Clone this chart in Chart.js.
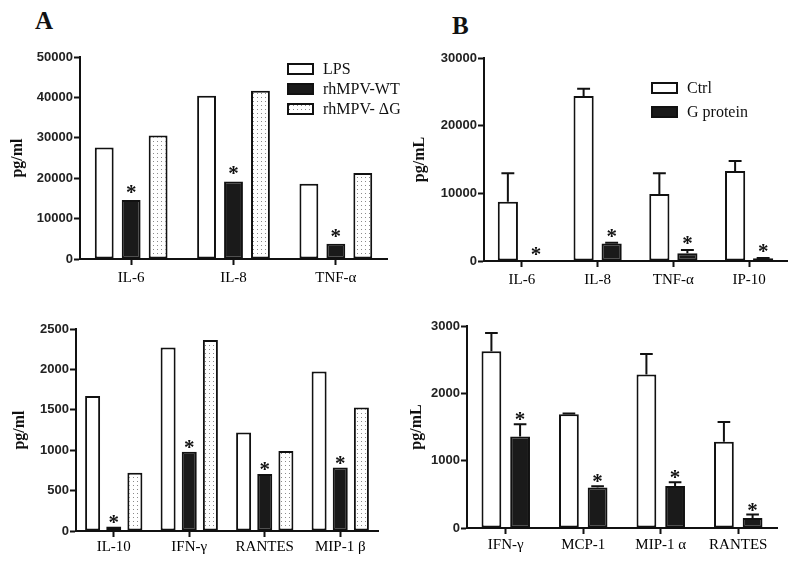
<!DOCTYPE html>
<html>
<head>
<meta charset="utf-8">
<script src="https://cdn.jsdelivr.net/npm/chart.js@4/dist/chart.umd.min.js"></script>
<style>
body { margin:0; background:#fff; }
#wrap { position:relative; width:800px; height:566px; overflow:hidden; }
canvas { position:absolute; }
.tag { position:absolute; font:bold 25px "Liberation Serif", serif; line-height:1; color:#111; }
</style>
</head>
<body>
<div id="wrap">
  <div class="tag" style="left:35px;top:8px">A</div>
  <div class="tag" style="left:452px;top:13px">B</div>
  <canvas id="a1" width="400" height="250" style="left:0;top:40px"></canvas>
  <canvas id="b1" width="400" height="250" style="left:400px;top:40px"></canvas>
  <canvas id="a2" width="400" height="266" style="left:0;top:300px"></canvas>
  <canvas id="b2" width="400" height="266" style="left:400px;top:300px"></canvas>
</div>
<script>
// panel A, top
const catsA1 = ['IL-6', 'IL-8', 'TNF-α'];
const lpsA1 = [27600, 40400, 18600];
const wtA1 = [14600, 19200, 3800];
const dgA1 = [30600, 41650, 21300];

// panel A, bottom
const catsA2 = ['IL-10', 'IFN-γ', 'RANTES', 'MIP-1 β'];
const lpsA2 = [1670, 2270, 1220, 1975];
const wtA2 = [55, 980, 705, 785];
const dgA2 = [720, 2365, 990, 1530];

// panel B, top
const catsB1 = ['IL-6', 'IL-8', 'TNF-α', 'IP-10'];
const ctrlB1 = [8760, 24400, 9900, 13300];
const ctrlErrB1 = [4200, 1050, 3050, 1470];
const gB1 = [0, 2600, 1130, 400];
const gErrB1 = [0, 100, 500, 60];

// panel B, bottom
const catsB2 = ['IFN-γ', 'MCP-1', 'MIP-1 α', 'RANTES'];
const ctrlB2 = [2625, 1690, 2280, 1280];
const ctrlErrB2 = [270, 10, 305, 295];
const gB2 = [1360, 600, 625, 150];
const gErrB2 = [180, 20, 55, 50];

const seriesA = ['LPS', 'rhMPV-WT', 'rhMPV- ΔG'];
const seriesB = ['Ctrl', 'G protein'];

const INK = '#111';
const SERIF = '"Liberation Serif", "Times New Roman", serif';

function dots(ctx) {
    const c = document.createElement('canvas');
    c.width = 4; c.height = 4;
    const g = c.getContext('2d');
    g.fillStyle = '#fff'; g.fillRect(0, 0, 4, 4);
    g.fillStyle = '#8a8a8a'; g.fillRect(1, 1, 1, 1);
    return ctx.createPattern(c, 'repeat');
}

// error bars (upward only) and significance stars
const extras = {
    id: 'extras',
    afterDatasetsDraw(chart, args, opts) {
        const ctx = chart.ctx, y = chart.scales.y;
        chart.data.datasets.forEach((ds, di) => {
            const meta = chart.getDatasetMeta(di);
            meta.data.forEach((bar, i) => {
                let top = ds.data[i];
                if (ds.errors) {
                    top += ds.errors[i];
                    const yt = y.getPixelForValue(top);
                    if (ds.errors[i] > 0) {
                        ctx.save();
                        ctx.strokeStyle = INK; ctx.lineWidth = 2;
                        ctx.beginPath();
                        ctx.moveTo(bar.x, bar.y); ctx.lineTo(bar.x, yt);
                        ctx.moveTo(bar.x - bar.width * 0.32, yt); ctx.lineTo(bar.x + bar.width * 0.32, yt);
                        ctx.stroke();
                        ctx.restore();
                    }
                }
                if (ds.stars) {
                    const yt = y.getPixelForValue(top);
                    ctx.save();
                    ctx.fillStyle = INK;
                    ctx.font = 'bold 21px ' + SERIF;
                    ctx.textAlign = 'center';
                    ctx.textBaseline = 'alphabetic';
                    ctx.fillText('*', bar.x, yt - opts.lift);
                    ctx.restore();
                }
            });
        });
    }
};

// boxed legend inside the plot
const boxLegend = {
    id: 'boxLegend',
    afterDraw(chart, args, opts) {
        if (!opts.show) return;
        const ctx = chart.ctx;
        chart.data.datasets.forEach((ds, i) => {
            const cy = opts.y + i * opts.step;
            ctx.save();
            ctx.fillStyle = ds.backgroundColor;
            ctx.fillRect(opts.x, cy - 5, 25, 10);
            ctx.strokeStyle = INK; ctx.lineWidth = 2;
            ctx.strokeRect(opts.x, cy - 5, 25, 10);
            ctx.fillStyle = INK;
            ctx.font = '16px ' + SERIF;
            ctx.textBaseline = 'middle';
            ctx.fillText(ds.label, opts.x + 35, cy + 1);
            ctx.restore();
        });
    }
};

function panel(id, cats, datasets, g) {
    const ctx = document.getElementById(id).getContext('2d');
    return new Chart(ctx, {
        type: 'bar',
        data: { labels: cats, datasets: datasets },
        plugins: [extras, boxLegend],
        options: {
            responsive: false,
            animation: false,
            layout: { padding: { top: g.top, right: g.right, left: 0, bottom: 0 } },
            categoryPercentage: g.cat,
            barPercentage: g.bar,
            plugins: {
                legend: { display: false },
                tooltip: { enabled: false },
                extras: { lift: g.lift },
                boxLegend: g.legend || { show: false }
            },
            scales: {
                x: {
                    offset: true,
                    grid: { offset: false, drawOnChartArea: false, tickLength: 6, tickWidth: 2, color: INK },
                    border: { color: INK, width: 2 },
                    ticks: { font: { family: SERIF, size: 15 }, color: '#000', padding: g.xpad },
                    afterFit(s) { s.height = g.xh; }
                },
                y: {
                    min: 0, max: g.max,
                    ticks: { stepSize: g.step, callback: v => String(v), font: { family: '"Liberation Sans", Arial, sans-serif', weight: 'bold', size: 13 }, color: '#222', padding: 1 },
                    grid: { drawOnChartArea: false, tickLength: 6, tickWidth: 2, color: INK },
                    border: { color: INK, width: 2 },
                    title: { display: true, text: g.ytitle, font: { family: SERIF, weight: 'bold', size: 16 }, color: INK, padding: { top: g.tpad, bottom: 0 } },
                    afterFit(s) { s.width = g.yw; }
                }
            }
        }
    });
}

function bars(label, data, fill, extra) {
    return Object.assign({ label: label, data: data, backgroundColor: fill, borderColor: INK, borderWidth: 2, borderSkipped: false }, extra || {});
}

const pa1 = dots(document.getElementById('a1').getContext('2d'));
const pa2 = dots(document.getElementById('a2').getContext('2d'));

panel('a1', catsA1, [
    bars(seriesA[0], lpsA1, '#fff'),
    bars(seriesA[1], wtA1, '#1a1a1a', { stars: true }),
    bars(seriesA[2], dgA1, pa1)
], { top: 17, right: 13, yw: 80, xh: 31, xpad: 4, max: 50000, step: 10000, cat: 0.79, bar: 0.70, lift: 1, ytitle: 'pg/ml', tpad: 8,
     legend: { show: true, x: 288, y: 29, step: 20 } });

panel('b1', catsB1, [
    bars(seriesB[0], ctrlB1, '#fff', { errors: ctrlErrB1 }),
    bars(seriesB[1], gB1, '#1a1a1a', { errors: gErrB1, stars: true })
], { top: 18, right: 13, yw: 84, xh: 29, xpad: 4, max: 30000, step: 10000, cat: 0.74, bar: 0.72, lift: 0, ytitle: 'pg/mL', tpad: 10,
     legend: { show: true, x: 252, y: 48, step: 24 } });

panel('a2', catsA2, [
    bars(seriesA[0], lpsA2, '#fff'),
    bars(seriesA[1], wtA2, '#1a1a1a', { stars: true }),
    bars(seriesA[2], dgA2, pa2)
], { top: 29, right: 22, yw: 76, xh: 35, xpad: 1, max: 2500, step: 500, cat: 0.84, bar: 0.71, lift: -2, ytitle: 'pg/ml', tpad: 10 });

panel('b2', catsB2, [
    bars(seriesB[0], ctrlB2, '#fff', { errors: ctrlErrB2 }),
    bars(seriesB[1], gB2, '#1a1a1a', { errors: gErrB2, stars: true })
], { top: 26, right: 23, yw: 67, xh: 38, xpad: 2, max: 3000, step: 1000, cat: 0.74, bar: 0.69, lift: -2, ytitle: 'pg/mL', tpad: 7 });
</script>
</body>
</html>
